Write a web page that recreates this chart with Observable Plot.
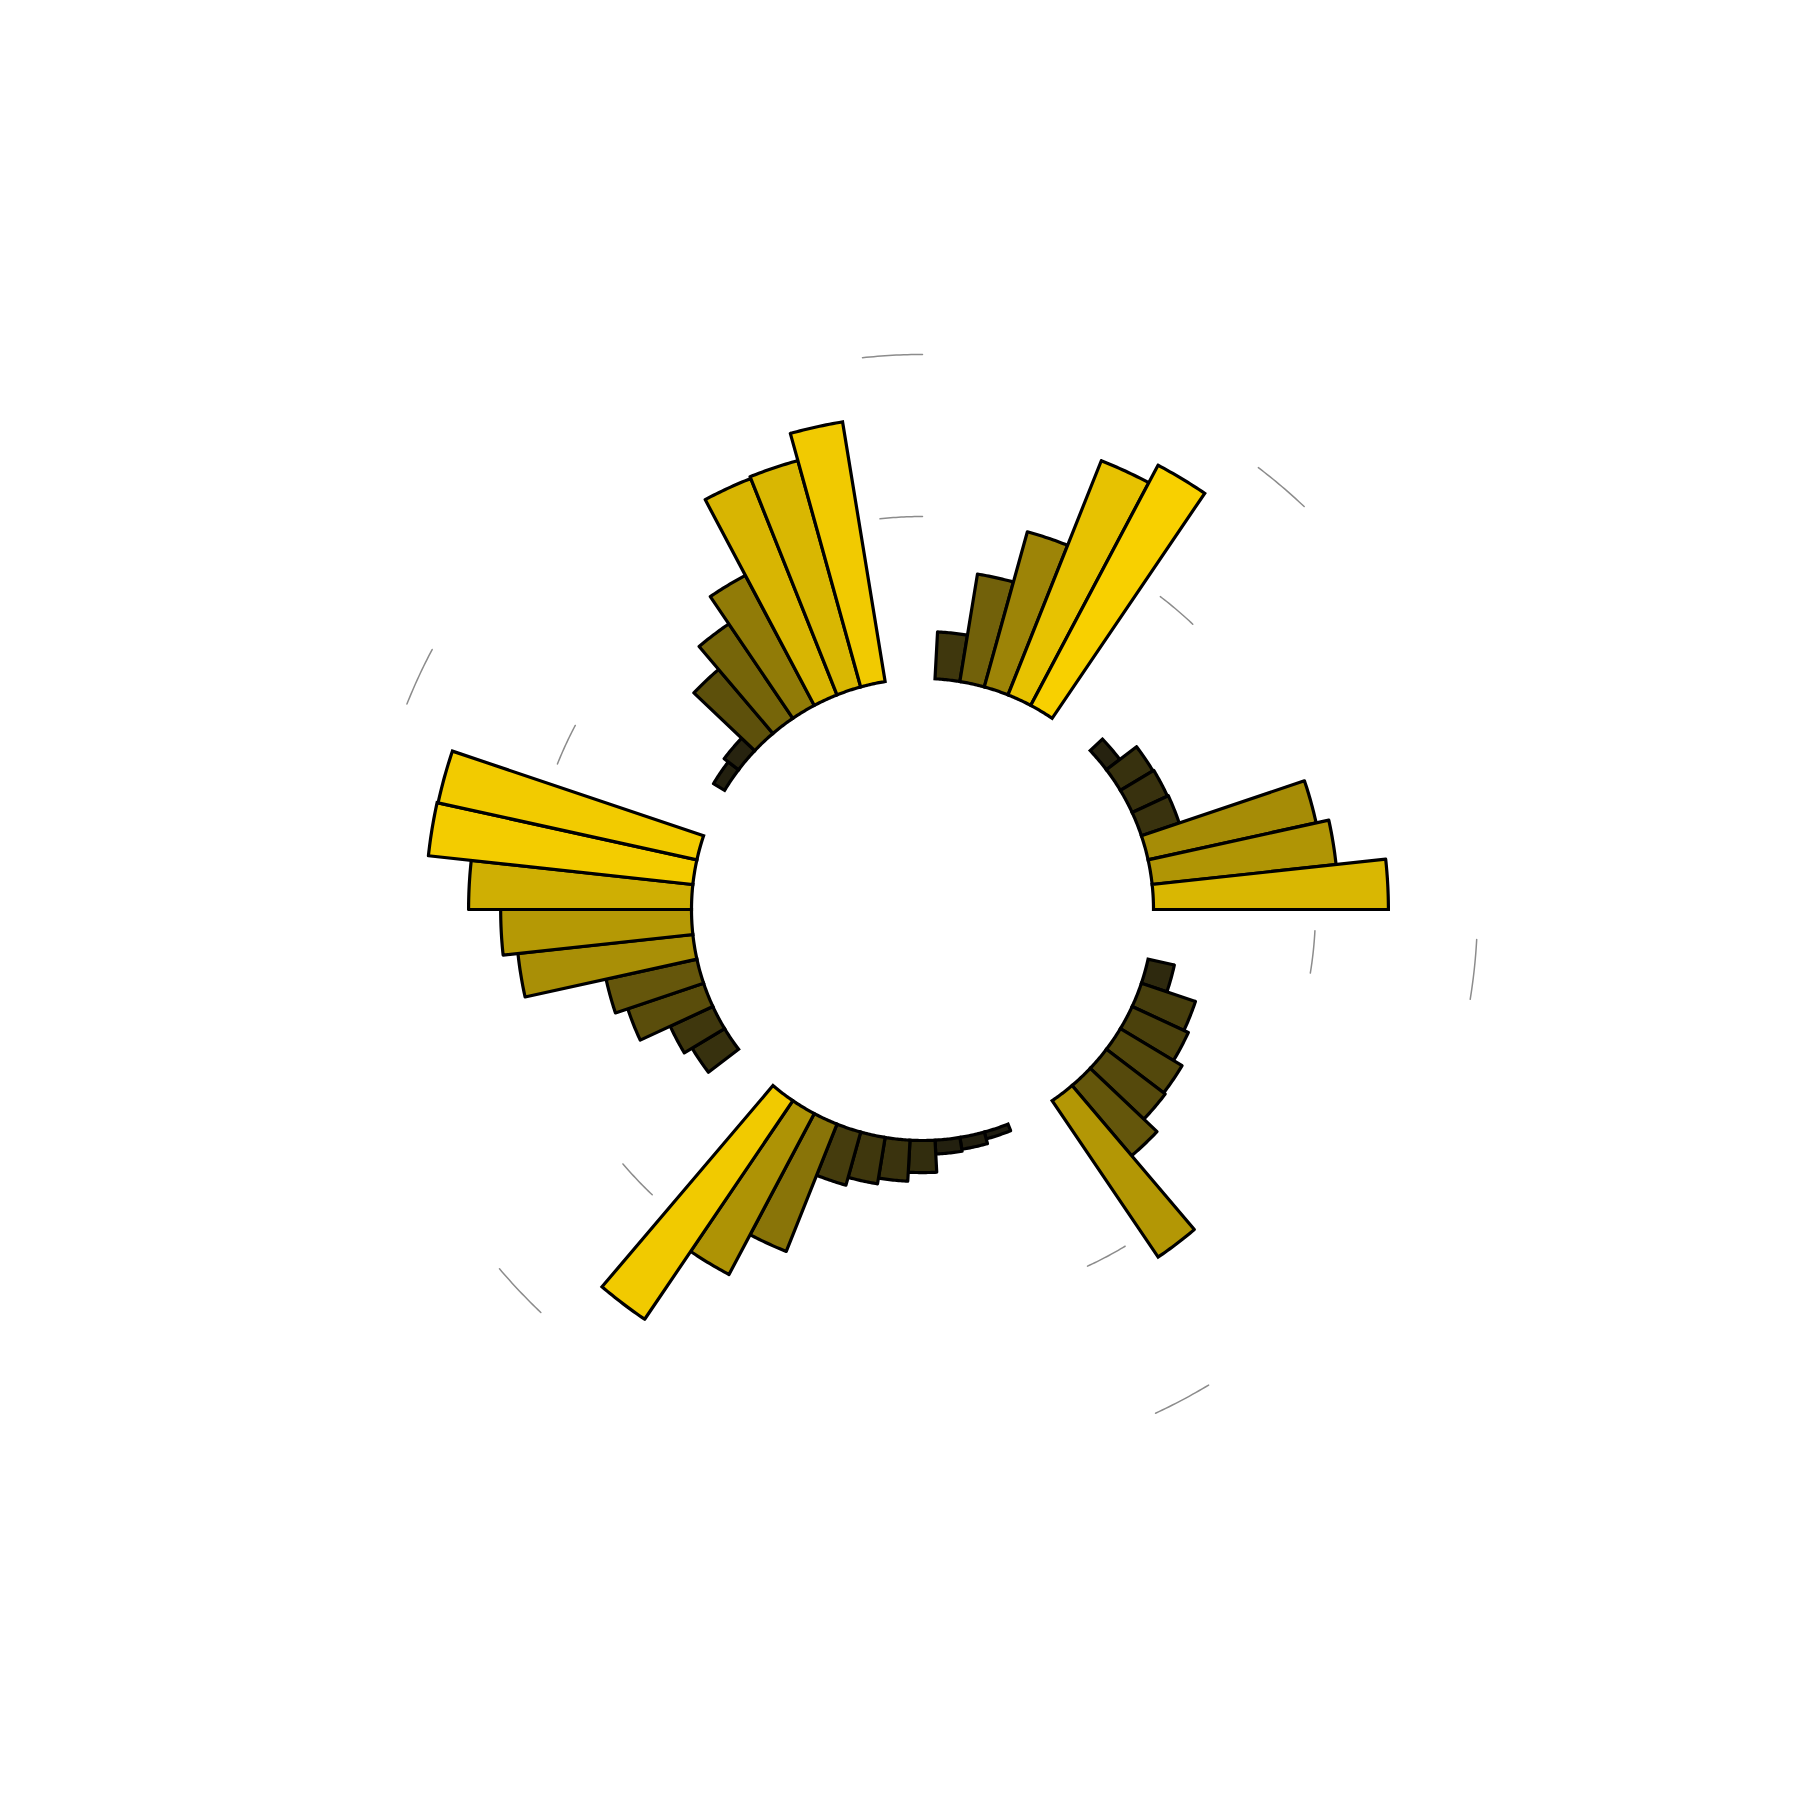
<!DOCTYPE html>
<html>
<head>
<meta charset="utf-8">
<script src="https://cdn.jsdelivr.net/npm/d3@7"></script>
<script src="https://cdn.jsdelivr.net/npm/@observablehq/plot@0.6"></script>
<style>
html, body { margin: 0; padding: 0; background: #ffffff; }
#chart svg { display: block; }
</style>
</head>
<body>
<div id="chart"></div>
<script>
// ---- data (grouped, ascending within each group) ----
const groupA = [14.5, 33.6, 49.7, 77.8, 83.9];
const groupB = [5.2, 11.7, 12.0, 12.3, 53.1, 57.1, 72.5];
const groupC = [8.3, 17.6, 19.1, 22.2, 22.8, 28.4, 58.3];
const groupD = [2.2, 3.7, 4.3, 9.9, 12.7, 14.5, 17.0, 42.3, 56.2, 81.5];
const groupE = [11.7, 14.5, 24.7, 28.7, 54.3, 58.9, 68.8, 82.1, 81.8];
const groupF = [4.0, 5.6, 25.9, 35.2, 45.4, 71.9, 72.5, 81.2];
const groupNames = ["A", "B", "C", "D", "E", "F"];
const groupValues = [groupA, groupB, groupC, groupD, groupE, groupF];
const emptyBarsPerGap = 2;
const gridValues = [50, 100];

// ---- build slot ids (each group followed by empty slots) ----
const bars = [];
const gaps = [];
let id = 1;
groupValues.forEach((vals, g) => {
  vals.forEach(v => { bars.push({id, group: groupNames[g], value: v}); id++; });
  const gapIds = [];
  for (let k = 0; k < emptyBarsPerGap; k++) { gapIds.push(id); id++; }
  gaps.push({group: groupNames[g], first: gapIds[0], last: gapIds[gapIds.length - 1]});
});
const nSlots = id - 1;

// ---- polar helpers ----
const W = 1800, H = 1800;
const cx = 922, cy = 909;
const angle = d3.scaleLinear().domain([0, nSlots]).range([0, 360]);   // slot id -> degrees clockwise from north
const radius = d3.scaleLinear().domain([0, 100]).range([231, 555]);  // value -> radial distance
const half = (angle(1) - angle(0)) / 2;
const toXY = (deg, r) => {
  const a = deg * Math.PI / 180;
  return {x: r * Math.sin(a), y: r * Math.cos(a)};
};

const barPoints = [];
const N = 16;
for (const b of bars) {
  const a0 = angle(b.id) - half, a1 = angle(b.id) + half;
  const r0 = radius(0), r1 = radius(b.value);
  const pts = [];
  for (let k = 0; k <= N; k++) pts.push(toXY(a0 + (a1 - a0) * k / N, r1));
  for (let k = N; k >= 0; k--) pts.push(toXY(a0 + (a1 - a0) * k / N, r0));
  pts.push(pts[0]);
  for (const p of pts) barPoints.push({...p, id: b.id, value: b.value, group: b.group});
}

const gridPoints = [];
for (const gp of gaps) {
  for (const gv of gridValues) {
    const a0 = angle(gp.first), a1 = angle(gp.last);
    for (let k = 0; k <= N; k++) {
      const p = toXY(a0 + (a1 - a0) * k / N, radius(gv));
      gridPoints.push({...p, key: gp.group + "-" + gv});
    }
  }
}

const chart = Plot.plot({
  width: W,
  height: H,
  margin: 0,
  x: {domain: [-cx, W - cx], axis: null},
  y: {domain: [cy - H, cy], axis: null},
  color: {type: "linear", domain: [0, 84], range: ["#181710", "#f8d000"], interpolate: "rgb"},
  style: {background: "#ffffff"},
  marks: [
    Plot.line(gridPoints, {x: "x", y: "y", z: "key", stroke: "#8c8c8c", strokeWidth: 1.5, curve: "linear"}),
    Plot.line(barPoints, {
      x: "x", y: "y", z: "id", fill: "value",
      stroke: "#000000", strokeWidth: 3.2,
      strokeLinejoin: "miter", strokeMiterlimit: 10, curve: "linear"
    })
  ]
});
document.getElementById("chart").appendChild(chart);
</script>
</body>
</html>
